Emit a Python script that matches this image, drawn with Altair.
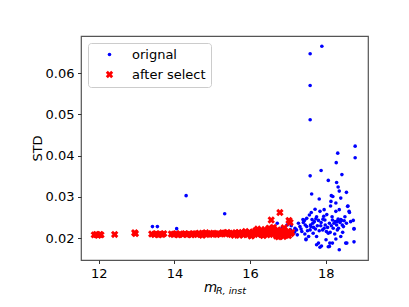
import altair as alt
import pandas as pd

# "after select" points (m_R,inst, STD)
sel_x = [11.88, 11.93, 11.98, 12.03, 12.06, 12.42, 12.95, 12.97,
         13.40, 13.47, 13.52, 13.58, 13.63, 13.68, 13.72, 13.92, 13.98, 14.05,
         14.10, 14.15, 14.22, 14.28, 14.33, 14.38, 14.45, 14.50, 14.55, 14.60,
         14.65, 14.70, 14.74, 14.78, 14.83, 14.88, 14.93, 14.98, 15.03, 15.08,
         15.12, 15.17, 15.22, 15.27, 15.32, 15.36, 15.40, 15.45, 15.50, 15.55,
         15.58, 15.62, 15.66, 15.70, 15.74, 15.78, 15.82, 15.86, 15.90, 15.94,
         15.98, 16.02, 16.05, 16.08, 16.12, 16.15, 16.18, 16.21, 16.24, 16.27,
         16.30, 16.33, 16.36, 16.39, 16.42, 16.45, 16.48, 16.51, 16.54, 16.56,
         16.58, 16.61, 16.64, 16.67, 16.70, 16.73, 16.76, 16.79, 16.80, 16.83,
         16.86, 16.88, 16.91, 16.94, 16.97, 17.00, 17.03, 17.06, 17.08, 17.10,
         16.03, 16.20, 16.35, 16.50, 16.62, 16.75, 16.90, 17.02, 15.88, 15.72]
sel_y = [0.0208, 0.0209, 0.0207, 0.0209, 0.0208, 0.0209, 0.0213, 0.0211,
         0.0210, 0.0209, 0.0211, 0.0208, 0.0210, 0.0209, 0.0211, 0.0210, 0.0209, 0.0211,
         0.0208, 0.0210, 0.0209, 0.0211, 0.0209, 0.0210, 0.0208, 0.0211, 0.0210, 0.0209,
         0.0212, 0.0210, 0.0207, 0.0211, 0.0213, 0.0210, 0.0209, 0.0211, 0.0212, 0.0210,
         0.0209, 0.0211, 0.0210, 0.0213, 0.0212, 0.0210, 0.0214, 0.0211, 0.0209, 0.0212,
         0.0207, 0.0213, 0.0211, 0.0214, 0.0210, 0.0212, 0.0208, 0.0213, 0.0211, 0.0209,
         0.0214, 0.0212, 0.0207, 0.0215, 0.0211, 0.0218, 0.0213, 0.0209, 0.0216, 0.0212,
         0.0219, 0.0210, 0.0215, 0.0221, 0.0213, 0.0208, 0.0217, 0.0211, 0.0222, 0.0244,
         0.0214, 0.0209, 0.0218, 0.0212, 0.0205, 0.0220, 0.0214, 0.0262, 0.0209, 0.0217,
         0.0211, 0.0204, 0.0219, 0.0213, 0.0208, 0.0216, 0.0243, 0.0238, 0.0211, 0.0214,
         0.0205, 0.0222, 0.0206, 0.0224, 0.0226, 0.0203, 0.0225, 0.0206, 0.0216, 0.0207]

# extra "orignal" points (not selected); the original set also contains the selected ones
orig_x = [17.90, 17.59, 17.59, 17.59, 18.78, 18.78, 18.32, 18.28, 17.88, 17.59,
          18.43, 18.07, 18.29, 18.33, 18.36, 18.55, 17.63, 18.15, 18.19, 17.83,
          18.40, 18.14, 18.27, 18.58, 14.31, 15.33, 13.42, 13.55, 14.06, 18.62,
          18.75, 18.56, 17.85, 17.76, 18.07, 18.11, 17.48,
          17.44, 17.50, 17.57, 17.62, 17.66, 17.72, 17.76, 17.81, 17.85, 17.87,
          17.92, 17.96, 17.98, 18.03, 18.07, 18.10, 18.13, 18.17, 18.20, 18.25,
          18.27, 18.31, 18.33, 18.36, 18.40, 18.42, 18.47, 18.51, 18.55, 18.59,
          18.63, 18.66, 18.73, 18.75, 18.75, 18.36, 18.53, 18.10, 17.89, 17.81,
          17.76, 17.67, 17.59, 17.50, 17.41, 17.32, 17.23, 17.15, 17.07, 18.27,
          18.18, 18.01, 17.96, 17.73, 17.61, 17.55, 17.48, 17.37, 17.28, 17.19,
          17.12, 17.18, 17.25, 17.35, 17.45, 17.52, 17.60, 17.68, 17.70, 17.78,
          17.83, 17.88, 17.93, 17.99, 18.02, 18.05, 18.12, 18.15, 18.22, 18.24,
          18.29, 18.34, 18.38, 18.44, 18.45, 18.49, 18.40, 18.36, 18.30, 18.18,
          17.95, 17.74, 17.64, 17.40, 17.46, 17.09, 17.02, 16.98, 16.72, 16.25,
          16.55, 16.85]
orig_y = [0.0665, 0.0647, 0.0570, 0.0487, 0.0423, 0.0395, 0.0406, 0.0383, 0.0364, 0.0351,
          0.0354, 0.0340, 0.0335, 0.0324, 0.0314, 0.0311, 0.0307, 0.0303, 0.0301, 0.0295,
          0.0297, 0.0289, 0.0285, 0.0277, 0.0303, 0.0259, 0.0228, 0.0228, 0.0223, 0.0265,
          0.0223, 0.0188, 0.0178, 0.0184, 0.0179, 0.0188, 0.0198,
          0.0243, 0.0248, 0.0256, 0.0262, 0.0236, 0.0270, 0.0252, 0.0243, 0.0265, 0.0230,
          0.0220, 0.0269, 0.0244, 0.0257, 0.0212, 0.0236, 0.0278, 0.0252, 0.0224, 0.0240,
          0.0265, 0.0220, 0.0246, 0.0269, 0.0204, 0.0243, 0.0228, 0.0252, 0.0236, 0.0278,
          0.0262, 0.0240, 0.0243, 0.0222, 0.0191, 0.0172, 0.0188, 0.0180, 0.0181, 0.0188,
          0.0204, 0.0212, 0.0220, 0.0228, 0.0238, 0.0228, 0.0220, 0.0212, 0.0220, 0.0198,
          0.0188, 0.0196, 0.0224, 0.0222, 0.0228, 0.0204, 0.0196, 0.0216, 0.0236, 0.0224,
          0.0209, 0.0215, 0.0208, 0.0222, 0.0210, 0.0218, 0.0232, 0.0226, 0.0240, 0.0230,
          0.0218, 0.0238, 0.0246, 0.0232, 0.0216, 0.0226, 0.0214, 0.0230, 0.0236, 0.0210,
          0.0232, 0.0224, 0.0238, 0.0232, 0.0214, 0.0242, 0.0245, 0.0242, 0.0240, 0.0244,
          0.0253, 0.0247, 0.0245, 0.0245, 0.0232, 0.0230, 0.0236, 0.0232, 0.0236, 0.0206,
          0.0224, 0.0225]

series_names = ["orignal", "after select"]
x_ticks = [12, 14, 16, 18]
y_ticks = [0.02, 0.03, 0.04, 0.05, 0.06]

rows = []
for x, y in zip(orig_x + sel_x, orig_y + sel_y):
    rows.append({"m": x, "std": y, "series": series_names[0], "ord": 0})
for x, y in zip(sel_x, sel_y):
    rows.append({"m": x, "std": y, "series": series_names[1], "ord": 1})
df = pd.DataFrame(rows)

X_PATH = "M-1,-0.45L-0.45,-1L0,-0.55L0.45,-1L1,-0.45L0.55,0L1,0.45L0.45,1L0,0.55L-0.45,1L-1,0.45L-0.55,0Z"
FONT = "DejaVu Sans"

points = alt.Chart(df).mark_point(filled=True, opacity=1, strokeWidth=0).encode(
    x=alt.X("m:Q", scale=alt.Scale(domain=[11.53, 19.12], nice=False, zero=False),
            axis=alt.Axis(values=x_ticks, title=None, format="d")),
    y=alt.Y("std:Q", scale=alt.Scale(domain=[0.0147, 0.0690], nice=False, zero=False),
            axis=alt.Axis(values=y_ticks, format=".2f", title="STD",
                          titleX=-40, titleY=112, titleBaseline="alphabetic",
                          titleAlign="center", titleAngle=270)),
    color=alt.Color("series:N", title=None,
                    scale=alt.Scale(domain=series_names, range=["#0000ff", "#ff0000"]),
                    legend=alt.Legend(orient="none", legendX=7, legendY=7,
                                      padding=5, symbolOffset=10, labelOffset=16,
                                      rowPadding=6, fillColor="white",
                                      strokeColor="#cccccc", cornerRadius=3,
                                      labelFontSize=13, labelFont=FONT,
                                      labelColor="black")),
    shape=alt.Shape("series:N", title=None,
                    scale=alt.Scale(domain=series_names, range=["circle", X_PATH])),
    size=alt.Size("series:N", title=None,
                  scale=alt.Scale(domain=series_names, range=[13, 55])),
    order=alt.Order("ord:Q"),
)

label_df = pd.DataFrame({"main": ["m"], "sub": ["R, inst"]})
m_text = alt.Chart(label_df).mark_text(font=FONT, fontStyle="italic", fontSize=13.5,
                                       align="left", baseline="alphabetic", color="black").encode(
    text="main:N", x=alt.value(123), y=alt.value(255.5))
sub_text = alt.Chart(label_df).mark_text(font=FONT, fontStyle="italic", fontSize=9.5,
                                         align="left", baseline="alphabetic", color="black").encode(
    text="sub:N", x=alt.value(135), y=alt.value(258))

chart = alt.layer(points, m_text, sub_text).properties(
    width=287, height=224,
    autosize=alt.AutoSizeParams(type="none"),
    padding={"left": 73, "top": 28, "right": 33, "bottom": 39},
).configure_view(stroke="#555555", strokeWidth=1.2).configure_axis(
    domain=False, grid=False, ticks=True, tickSize=3.5, tickColor="#333333",
    labelFont=FONT, labelFontSize=13, labelColor="black", labelPadding=3.5,
    titleFont=FONT, titleFontSize=13, titleFontWeight="normal", titleColor="black",
)

chart.save("out.html", embed_options={"renderer": "svg", "actions": False})
